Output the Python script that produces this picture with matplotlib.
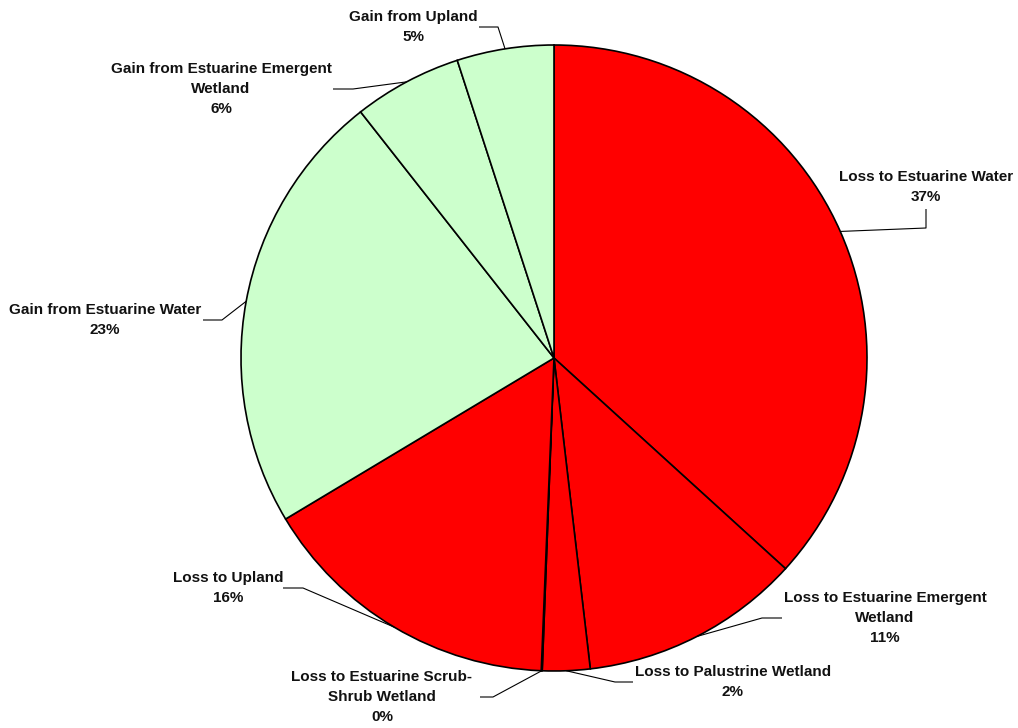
import matplotlib
matplotlib.use("Agg")
import matplotlib.pyplot as plt
import numpy as np

labels = ["Loss to Estuarine Water", "Loss to Estuarine Emergent\nWetland",
          "Loss to Palustrine Wetland", "Loss to Estuarine Scrub-\nShrub Wetland",
          "Loss to Upland", "Gain from Estuarine Water",
          "Gain from Estuarine Emergent\nWetland", "Gain from Upland"]
values = [36.75, 11.4, 2.45, 0.05, 15.75, 23.0, 5.6, 5.0]
kinds = ["loss", "loss", "loss", "loss", "loss", "gain", "gain", "gain"]

color_map = {"loss": "#FF0000", "gain": "#CCFFCC"}

W, H = 1018, 728
fig = plt.figure(figsize=(W / 100, H / 100), dpi=100)
ax = fig.add_axes([0, 0, 1, 1])

cx, cy, R = 554, H - 358, 313
wedges, _ = ax.pie(values, startangle=90, counterclock=False,
                   center=(cx, cy), radius=R,
                   colors=[color_map[k] for k in kinds],
                   wedgeprops=dict(edgecolor="black", linewidth=1.2))
ax.set_xlim(0, W)
ax.set_ylim(0, H)
ax.set_aspect("equal")
ax.axis("off")

# layout: text centers and leader elbows (pixel coords, y from top)
text_pos = [(926, 187), (885, 618), (733, 682), (382, 697),
            (228, 588), (105, 320), (221, 89), (413, 27)]
leader_start = [(926, 209), (782, 618), (633, 682), (480, 697),
                (283, 588), (203, 320), (333, 89), (479, 27)]
leader_elbow = [(926, 228), (762, 618), (615, 682), (493, 697),
                (303, 588), (222, 320), (353, 89), (498, 27)]

for w, lab, v, tp, ls, le in zip(wedges, labels, values, text_pos, leader_start, leader_elbow):
    mid = np.deg2rad((w.theta1 + w.theta2) / 2)
    ax_x = cx + R * np.cos(mid)
    ax_y = cy + R * np.sin(mid)
    ax.plot([ls[0], le[0], ax_x], [H - ls[1], H - le[1], ax_y],
            color="black", linewidth=0.8, solid_capstyle="butt")
    ax.text(tp[0], H - tp[1], f"{lab}\n{round(v):.0f}%", ha="center", va="center",
            fontsize=11, fontweight="bold", family="Liberation Sans",
            linespacing=1.55, color="#111111")

fig.savefig("out.png", dpi=100)
